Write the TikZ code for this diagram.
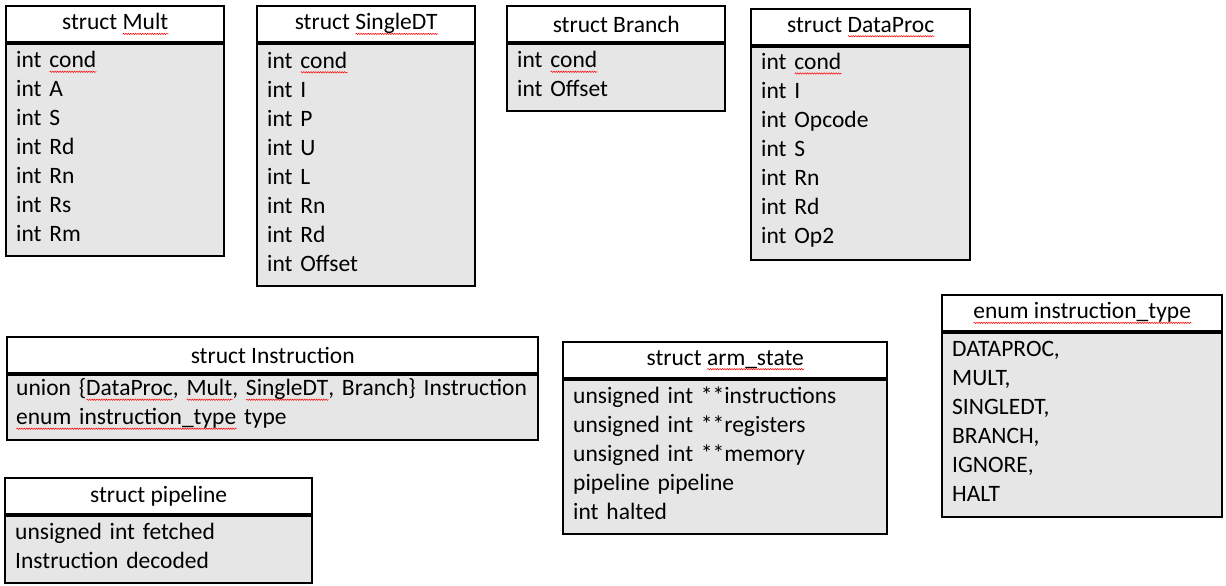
\documentclass[tikz,border=0pt]{standalone}
\usepackage{fontspec}
\setmainfont{Carlito}
\usetikzlibrary{positioning, decorations.pathmorphing}
\definecolor{fieldgray}{RGB}{231,230,230}
% red wavy line as the spell checker draws it
\newsavebox\spellbox
\newcommand\spell[1]{\leavevmode\sbox\spellbox{#1}\rlap{\tikz[baseline=0pt, x=1pt, y=1pt, yscale=1]
  \draw[red, fill=none, line width=0.5pt, decorate, decoration={snake, amplitude=0.7pt, segment length=2.4pt}]
    (0,-4) -- (\wd\spellbox,-4);}\usebox\spellbox}
\newcommand\fieldsend{\par\kern7pt}

\begin{document}
\begin{tikzpicture}[x=1pt,y=1pt,yscale=-1,xscale=1,every node/.style={font=\fontsize{23.5}{29}\selectfont}]

     \tikzstyle{head} = [draw = black,
						line width = 2.4pt,
						fill = white,
						anchor = north west,
						minimum height = 36pt,
						inner sep = 0pt
						]
     \tikzstyle{fields} = [draw = black,
						line width = 1.6pt,
						fill = fieldgray,
						inner xsep = 10pt,
						inner ysep = 0pt,
						align = left,
						execute at end node = \fieldsend
						]

\useasboundingbox[fill=white] (0,0) rectangle (1226,586);

% top row
\node [head, minimum width=218pt] (mult) at (5,5) {struct \spell{Mult}};
\node [fields, below=0pt of mult, text width=198pt, minimum height=212pt] (multf) {int \spell{cond}\\int A\\int S\\int Rd\\int Rn\\int Rs\\int Rm};

\node [head, minimum width=218pt] (single) at (256,5) {struct \spell{SingleDT}};
\node [fields, below=0pt of single, text width=198pt, minimum height=242pt] (singlef) {int \spell{cond}\\int I\\int P\\int U\\int L\\int Rn\\int Rd\\int Offset};

\node [head, minimum width=218pt] (branch) at (506,5) {struct Branch};
\node [fields, below=0pt of branch, text width=198pt, minimum height=67pt] (branchf) {int \spell{cond}\\int Offset};

\node [head, minimum width=219pt] (dataproc) at (750,8) {struct \spell{DataProc}};
\node [fields, below=0pt of dataproc, text width=199pt, minimum height=213pt] (dataprocf) {int \spell{cond}\\int I\\int Opcode\\int S\\int Rn\\int Rd\\int Op2};

% bottom part
\node [head, minimum width=531pt] (instr) at (6,336) {struct Instruction};
\node [fields, below=0pt of instr, text width=513pt, inner xsep=9pt, minimum height=65pt] (instrf) {union \{\spell{DataProc}, \spell{Mult}, \spell{SingleDT}, Branch\} Instruction\\\spell{enum instruction\_type} type};

\node [head, minimum width=307pt] (pipe) at (4,477) {struct pipeline};
\node [fields, below=0pt of pipe, text width=287pt, minimum height=67pt] (pipef) {unsigned int fetched\\Instruction decoded};

\node [head, minimum width=324pt] (arm) at (562,341) {struct \spell{arm\_state}};
\node [fields, below=0pt of arm, text width=304pt, minimum height=154pt] (armf) {unsigned int **instructions\\unsigned int **registers\\unsigned int **memory\\pipeline pipeline\\int halted};

\node [head, minimum width=280pt] (itype) at (941,294) {\spell{enum instruction\_type}};
\node [fields, below=0pt of itype, text width=260pt, minimum height=184pt] (itypef) {DATAPROC,\\MULT,\\SINGLEDT,\\BRANCH,\\IGNORE,\\HALT};

\end{tikzpicture}
\end{document}
